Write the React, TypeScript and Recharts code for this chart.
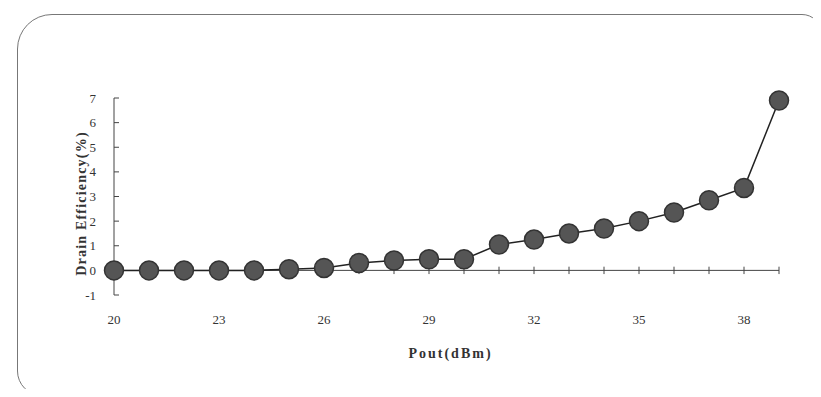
import { LineChart, Line, XAxis, YAxis, ReferenceLine, Label } from "recharts";

// Pout (dBm) sweep and measured drain efficiency (%)
const pout = [20, 21, 22, 23, 24, 25, 26, 27, 28, 29, 30, 31, 32, 33, 34, 35, 36, 37, 38, 39];
const efficiency = [0, 0, 0, 0, 0, 0.05, 0.1, 0.3, 0.4, 0.45, 0.45, 1.05, 1.25, 1.5, 1.7, 2.0, 2.35, 2.85, 3.35, 6.9];
const xTicks = [20, 23, 26, 29, 32, 35, 38];
const yTicks = [-1, 0, 1, 2, 3, 4, 5, 6, 7];

const data = pout.map((p, i) => ({ pout: p, eff: efficiency[i] }));

const serif = "'Liberation Serif', 'DejaVu Serif', serif";

const App = () => {
    return (
        <div style={{ position: "relative", width: 821, height: 397, margin: -8, overflow: "hidden", background: "#fff" }}>
            {/* rounded frame */}
            <div
                style={{
                    position: "absolute",
                    left: 17,
                    top: 14,
                    width: 805,
                    height: 382,
                    border: "1.5px solid #777",
                    borderRadius: "35px 20px 20px 25px",
                    boxSizing: "border-box",
                }}
            />
            <LineChart
                width={821}
                height={397}
                data={data}
                margin={{ top: 98, right: 42, bottom: 101, left: 113 }}
                style={{ position: "absolute", left: 0, top: 0 }}
            >
                <XAxis
                    dataKey="pout"
                    type="number"
                    domain={[20, 39]}
                    ticks={xTicks}
                    height={1}
                    axisLine={false}
                    tickLine={false}
                    tickSize={0}
                    tickMargin={20}
                    tick={{ fontFamily: serif, fontSize: 13, fill: "#333" }}
                >
                    <Label
                        value="Pout(dBm)"
                        position="bottom"
                        offset={52}
                        dx={4}
                        style={{ fontFamily: serif, fontSize: 14, fontWeight: "bold", letterSpacing: 2, fill: "#333" }}
                    />
                </XAxis>
                <YAxis
                    type="number"
                    domain={[-1, 7]}
                    ticks={yTicks}
                    width={1}
                    axisLine={{ stroke: "#444", strokeWidth: 1 }}
                    tickLine={{ stroke: "#444" }}
                    tickSize={-5}
                    tickMargin={23}
                    tick={{ fontFamily: serif, fontSize: 13, fill: "#333" }}
                >
                    <Label
                        value="Drain Efficiency(%)"
                        angle={-90}
                        position="center"
                        dx={-32}
                        dy={7}
                        style={{ fontFamily: serif, fontSize: 14, fontWeight: "bold", letterSpacing: 1.2, fill: "#333", textAnchor: "middle" }}
                    />
                </YAxis>
                {/* horizontal axis drawn through zero, with a tick at each dBm step */}
                <ReferenceLine y={0} stroke="#444" strokeWidth={1} />
                {pout.slice(1).map((p) => (
                    <ReferenceLine
                        key={p}
                        segment={[
                            { x: p, y: -0.15 },
                            { x: p, y: 0.15 },
                        ]}
                        stroke="#444"
                        strokeWidth={1}
                    />
                ))}
                <Line
                    dataKey="eff"
                    stroke="#222"
                    strokeWidth={1.5}
                    dot={{ r: 9.5, fill: "#555", stroke: "#333", strokeWidth: 1.5 }}
                    isAnimationActive={false}
                />
            </LineChart>
        </div>
    );
};

export default App;
